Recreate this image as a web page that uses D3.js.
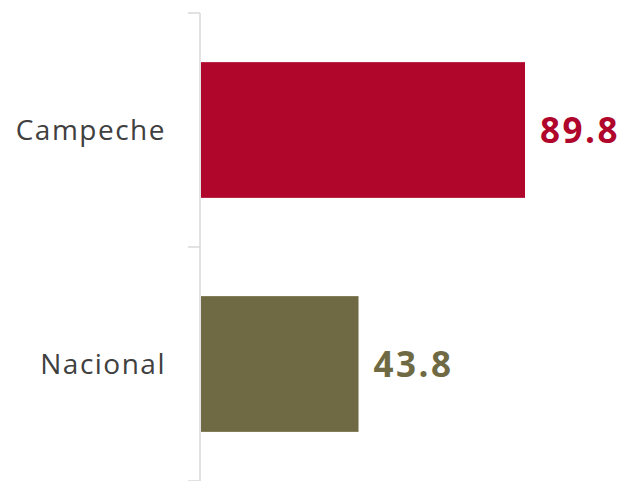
<!DOCTYPE html>
<html><head><meta charset="utf-8">
<script src="https://cdn.jsdelivr.net/npm/d3@7"></script>
<style>body{margin:0;background:#fff}svg{display:block}</style>
</head><body>
<svg id="c" width="623" height="481"></svg>
<script>
const categories = ["Campeche", "Nacional"];
const values = [89.8, 43.8];
const colors = ["#B0062C", "#6F6A43"];

const svg = d3.select("#c");
const x = d3.scaleLinear().domain([0, 89.8]).range([200, 525]);
const y = d3.scaleBand().domain(categories).range([13, 481]).paddingInner(0.42).paddingOuter(0.21);

// axis line and boundary ticks
const axisColor = "#D9D9D9";
svg.append("line").attr("x1", 200).attr("x2", 200).attr("y1", 13).attr("y2", 481)
  .attr("stroke", axisColor).attr("stroke-width", 1.5);
const bounds = [0, 1, 2].map(i => 13 + i * y.step());
svg.selectAll(".tk").data(bounds).enter().append("line")
  .attr("x1", 188).attr("x2", 200).attr("y1", d => d).attr("y2", d => d)
  .attr("stroke", axisColor).attr("stroke-width", 1.5);

svg.selectAll(".bar").data(categories).enter().append("rect")
  .attr("x", x(0) + 1).attr("y", d => y(d))
  .attr("width", (d, i) => x(values[i]) - x(0) - 1)
  .attr("height", y.bandwidth())
  .attr("fill", (d, i) => colors[i]);

svg.selectAll(".cl").data(categories).enter().append("text")
  .attr("x", 166).attr("y", d => y(d) + y.bandwidth() / 2)
  .attr("dy", "0.36em").attr("text-anchor", "end")
  .attr("font-family", "Open Sans").attr("font-size", 28).attr("letter-spacing", 1.5)
  .attr("fill", "#404040").text(d => d);

svg.selectAll(".vl").data(categories).enter().append("text")
  .attr("x", (d, i) => x(values[i]) + 15).attr("y", d => y(d) + y.bandwidth() / 2)
  .attr("dy", "0.36em")
  .attr("font-family", "Open Sans").attr("font-weight", "bold").attr("font-size", 35).attr("letter-spacing", 2.5)
  .attr("fill", (d, i) => colors[i]).text((d, i) => values[i].toFixed(1));
</script>
</body></html>
